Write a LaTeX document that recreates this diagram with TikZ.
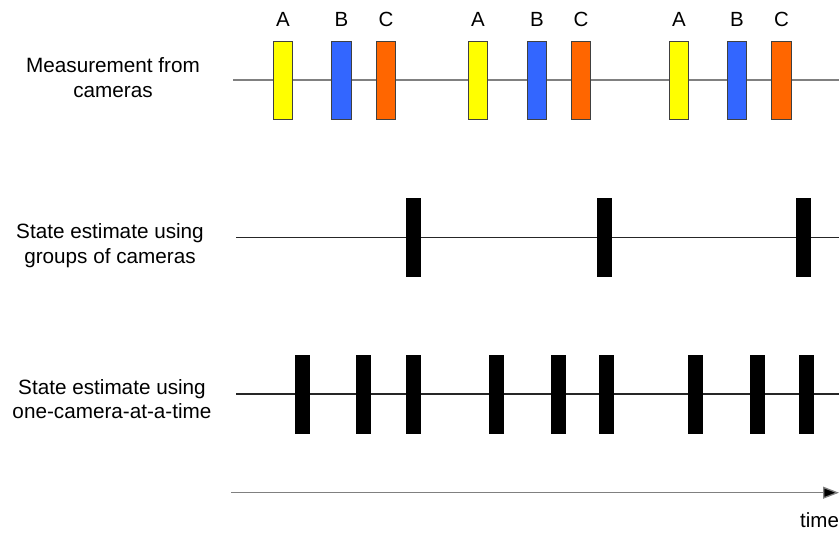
\documentclass[tikz,border=0pt]{standalone}
\usepackage{fontspec}
\setmainfont{Liberation Sans}
\usetikzlibrary{arrows.meta}
\definecolor{camA}{HTML}{FFFF00}
\definecolor{camB}{HTML}{3366FF}
\definecolor{camC}{HTML}{FF6600}
\definecolor{lgray}{HTML}{808080}
\begin{document}
\begin{tikzpicture}[x=1pt,y=-1pt,
  txt/.style={font=\fontsize{20.7}{24.8}\selectfont, inner sep=0pt, align=center},
  lab/.style={font=\fontsize{20.5}{24}\selectfont, inner sep=0pt, anchor=base},
  meas/.style={draw=black!75, line width=0.8pt, minimum width=19.5pt, minimum height=78pt, inner sep=0pt},
  est/.style={fill=black, minimum width=15pt, minimum height=79pt, inner sep=0pt},
  tline/.style={line width=1.5pt},
]
\useasboundingbox (0,0) rectangle (839,533);
% row 1 line
\coordinate (r1s) at (233,80);
\coordinate (r1e) at (839,80);
\draw[tline, draw=lgray] (r1s) -- (r1e);
% row 2 line
\coordinate (r2s) at (236,237.5);
\coordinate (r2e) at (839,237.5);
\draw[tline, draw=black!85] (r2s) -- (r2e);
% row 3 line
\coordinate (r3s) at (236,394);
\coordinate (r3e) at (839,394);
\draw[tline, draw=black!85] (r3s) -- (r3e);

% measurement boxes
\foreach \n/\x/\c/\l in {a1/283/camA/A, b1/341.5/camB/B, c1/386/camC/C,
                         a2/478/camA/A, b2/537/camB/B, c2/581/camC/C,
                         a3/679/camA/A, b3/737/camB/B, c3/781.5/camC/C}{
  \node[meas, fill=\c] (\n) at (\x,80) {};
  \node[lab] (l\n) at (\x,26) {\l};
}
% group estimates
\foreach \n/\x in {g1/413.5, g2/604.5, g3/803.5}{
  \node[est] (\n) at (\x,237.5) {};
}
% one-at-a-time estimates
\foreach \n/\x in {o1/302.5, o2/363.5, o3/413.5, o4/496.5, o5/558.5, o6/606.5, o7/695.5, o8/757.5, o9/806.5}{
  \node[est] (\n) at (\x,394.5) {};
}

% labels
\node[txt] (t1) at (113,77.3) {Measurement from\\cameras};
\node[txt] (t2) at (110,246) {State estimate using\\groups of cameras};
\node[txt] (t3) at (112,399) {State estimate using\\one-camera-at-a-time};

% time arrow
\coordinate (ts) at (231,492.7);
\coordinate (te) at (839,492.7);
\draw[line width=1.3pt, draw=lgray, -{Triangle[length=16pt,width=12pt,fill=black]}] (ts) -- (te);
\node[lab, anchor=base west] (time) at (800,527) {time};
\end{tikzpicture}
\end{document}
